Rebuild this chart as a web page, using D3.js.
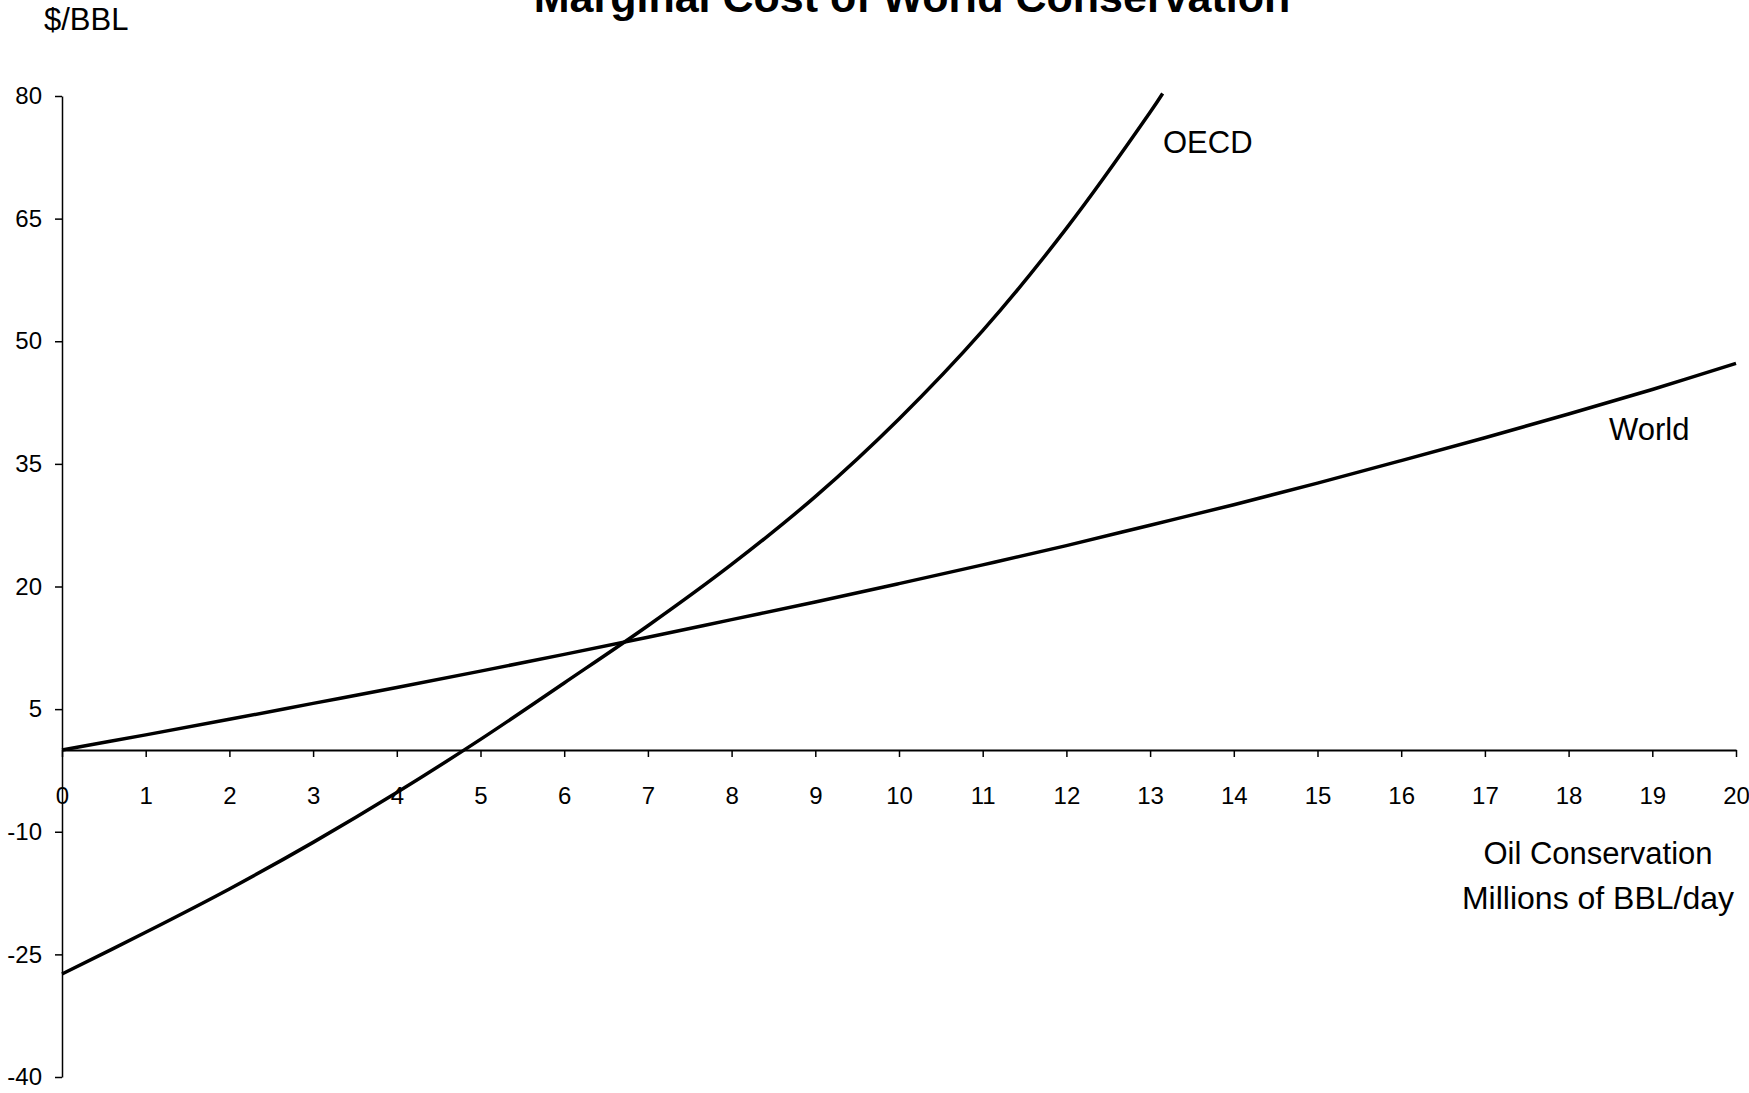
<!DOCTYPE html>
<html>
<head>
  <meta charset="UTF-8">
  <style>
    body { margin: 0; background: white; }
    svg { display: block; font-family: "Liberation Sans", Arial, sans-serif; }
  </style>
</head>
<body>
<svg></svg>
<script src="https://d3js.org/d3.v7.min.js"></script>
<script>

let width = 1749, height = 1093;

// data
let conservation = [0, 1, 2, 3, 4, 5, 6, 7, 8, 9, 10, 11, 12, 13, 14, 15, 16, 17, 18, 19, 20];
let worldCost = [0, 1.85, 3.75, 5.7, 7.65, 9.65, 11.7, 13.8, 15.95, 18.1, 20.35, 22.65, 25.0, 27.5, 30.0, 32.65, 35.4, 38.2, 41.1, 44.1, 47.3];
let oecdConservation = [0, 1, 2, 3, 4, 5, 6, 7, 8, 9, 10, 11, 12, 13, 13.15];
let oecdCost = [-27.4, -22.3, -17.0, -11.3, -5.2, 1.3, 8.2, 15.2, 22.7, 31.0, 40.5, 51.3, 63.8, 78.0, 80.3];
let xTicks = [0, 1, 2, 3, 4, 5, 6, 7, 8, 9, 10, 11, 12, 13, 14, 15, 16, 17, 18, 19, 20];
let yTicks = [80, 65, 50, 35, 20, 5, -10, -25, -40];

let svg = d3.select("svg")
    .attr("width", width)
    .attr("height", height);

let x = d3.scaleLinear().domain([0, 20]).range([62, 1736]);
let y = d3.scaleLinear().domain([-40, 80]).range([1077, 96]);

// y axis, plain hyphen for negatives like the original
let yAxis = svg.append("g")
    .attr("transform", "translate(" + x(0) + ",0)")
    .call(d3.axisLeft(y).tickValues(yTicks).tickFormat(d => String(d))
        .tickSizeInner(7).tickSizeOuter(0).tickPadding(13));
yAxis.select(".domain").attr("stroke-width", 1.5);
yAxis.selectAll(".tick line").attr("stroke-width", 1.5);
yAxis.selectAll("text").attr("font-size", 24).attr("font-family", "Liberation Sans, Arial, sans-serif");

// x axis sits on zero
let xAxis = svg.append("g")
    .attr("transform", "translate(0," + y(0) + ")")
    .call(d3.axisBottom(x).tickValues(xTicks).tickFormat(d => String(d))
        .tickSizeInner(7).tickSizeOuter(0).tickPadding(30));
xAxis.select(".domain").attr("stroke-width", 2);
xAxis.selectAll(".tick line").attr("stroke-width", 1.5);
xAxis.selectAll("text").attr("font-size", 24).attr("font-family", "Liberation Sans, Arial, sans-serif");

let line = d3.line()
    .x(d => x(d[0]))
    .y(d => y(d[1]))
    .curve(d3.curveCatmullRom);

svg.append("path")
    .datum(conservation.map((c, i) => [c, worldCost[i]]))
    .attr("fill", "none")
    .attr("stroke", "black")
    .attr("stroke-width", 3.5)
    .attr("d", line);

svg.append("path")
    .datum(oecdConservation.map((c, i) => [c, oecdCost[i]]))
    .attr("fill", "none")
    .attr("stroke", "black")
    .attr("stroke-width", 3.5)
    .attr("d", line);

// texts
svg.append("text")
    .attr("x", 912).attr("y", 12)
    .attr("text-anchor", "middle")
    .attr("font-size", 43)
    .attr("font-weight", "bold")
    .text("Marginal Cost of World Conservation");

svg.append("text")
    .attr("x", 44).attr("y", 30)
    .attr("font-size", 31)
    .text("$/BBL");

svg.append("text")
    .attr("x", 1163).attr("y", 153)
    .attr("font-size", 31)
    .text("OECD");

svg.append("text")
    .attr("x", 1609).attr("y", 440)
    .attr("font-size", 31)
    .text("World");

svg.append("text")
    .attr("x", 1598).attr("y", 864)
    .attr("text-anchor", "middle")
    .attr("font-size", 31)
    .text("Oil Conservation");

svg.append("text")
    .attr("x", 1598).attr("y", 909)
    .attr("text-anchor", "middle")
    .attr("font-size", 32)
    .text("Millions of BBL/day");

</script>
</body>
</html>
